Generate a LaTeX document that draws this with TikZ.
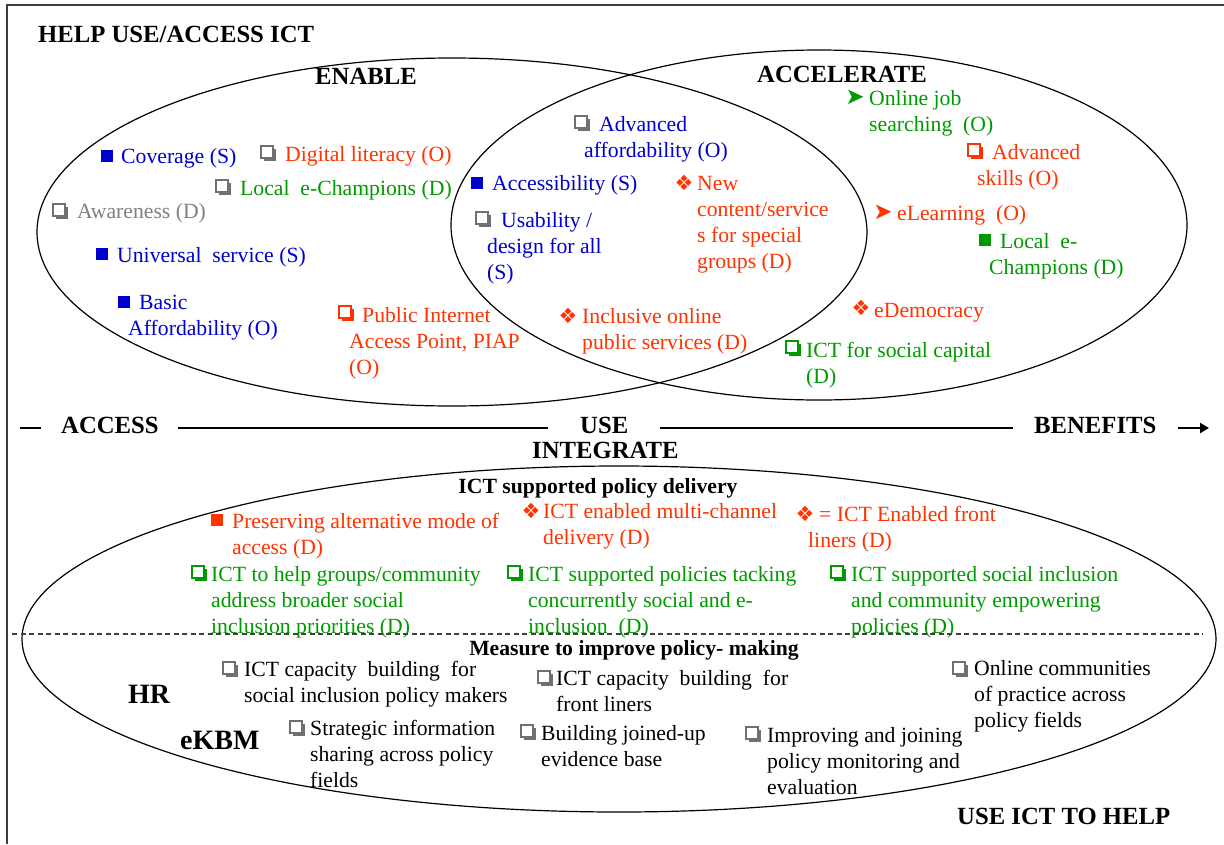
\documentclass[tikz,border=0pt]{standalone}
\usepackage{fontspec}
\setmainfont{Liberation Serif}
\newfontfamily\symf{DejaVu Sans}
\usetikzlibrary{arrows.meta,shadows,shapes.geometric}

\definecolor{cblue}{RGB}{0,0,204}
\definecolor{cred}{RGB}{255,51,0}
\definecolor{cgreen}{RGB}{0,153,0}
\definecolor{cgray}{RGB}{128,128,128}
\definecolor{cbox}{RGB}{112,112,112}
\definecolor{cframe}{RGB}{60,60,60}

\tikzset{
  txt/.style={anchor=base west, inner sep=0pt, align=left, font=\fontsize{21.7}{26}\selectfont},
  % multi-line texts are placed by their first baseline
  l2/.style={yshift=-26pt},
  l3/.style={yshift=-52pt},
  l4/.style={yshift=-78pt},
  head/.style={anchor=base west, inner sep=0pt, font=\fontsize{24.7}{29}\selectfont\bfseries},
  sub/.style={anchor=base, inner sep=0pt, font=\fontsize{21.7}{26}\selectfont\bfseries},
  big/.style={anchor=base west, inner sep=0pt, font=\fontsize{28}{32}\selectfont\bfseries},
  sqfull/.style={rectangle, inner sep=0pt, minimum size=12pt, fill=#1},
  sqopen/.style={rectangle, inner sep=0pt, minimum size=12pt, draw=#1, line width=1.1pt, fill=white,
    general shadow={shadow xshift=2.6pt, shadow yshift=-2.6pt, fill=#1}},
  dia/.style={inner sep=0pt, text=#1, font=\fontsize{21}{21}\symf},
  arrhead/.style={inner sep=0pt, text=#1, font=\fontsize{23}{23}\symf},
  ring/.style={ellipse, draw, line width=1.2pt, inner sep=0pt, outer sep=0pt},
  axis/.style={line width=2.6pt},
  frame/.style={line width=1.8pt, draw=cframe},
  divider/.style={line width=1.1pt, draw=black!75, dash pattern=on 5pt off 3.5pt},
}

\begin{document}
\begin{tikzpicture}[x=1pt,y=-1pt]
\useasboundingbox (0,0) rectangle (1224,844);

% page frame
\draw[frame] (7,844) -- (7,5) -- (1224,5);

% the three areas
\node[ring, minimum width=830pt, minimum height=348pt] (enable) at (452,232) {};
\node[ring, minimum width=736pt, minimum height=350pt] (accel) at (819,225) {};
\node[ring, minimum width=1194pt, minimum height=346pt] (integrate) at (619,639) {};

% headings
\node[head] (help) at (38,42) {HELP USE/ACCESS ICT};
\node[head] (enablet) at (315,84) {ENABLE};
\node[head] (accelt) at (757,82) {ACCELERATE};

% ENABLE items
\node[sqfull=cblue] (b1) at (107,156) {};
\node[txt,text=cblue] (t1) at (121,163) {Coverage (S)};
\node[sqopen=cbox] (b2) at (267,152) {};
\node[txt,text=cred] (t2) at (285,161) {Digital literacy (O)};
\node[sqopen=cbox] (b3) at (222,186) {};
\node[txt,text=cgreen] (t3) at (240,195) {Local\ \ e-Champions (D)};
\node[sqopen=cbox] (b4) at (59,210) {};
\node[txt,text=cgray] (t4) at (77,218) {Awareness (D)};
\node[sqfull=cblue] (b5) at (102,254) {};
\node[txt,text=cblue] (t5) at (117,262) {Universal\ \ service (S)};
\node[sqfull=cblue] (b6) at (124,302) {};
\node[txt,l2,text=cblue] (t6) at (128,309) {\hspace*{11pt}Basic\\Affordability (O)};
\node[sqopen=cred] (b7) at (345,312) {};
\node[txt,l3,text=cred] (t7) at (349,322) {\hspace*{13pt}Public Internet\\Access Point, PIAP\\(O)};

% shared items
\node[sqopen=cbox] (b8) at (581,122) {};
\node[txt,l2,text=cblue] (t8) at (584,131) {\hspace*{15pt}Advanced\\affordability (O)};
\node[sqfull=cblue] (b9) at (477,183) {};
\node[txt,text=cblue] (t9) at (492,190) {Accessibility (S)};
\node[sqopen=cbox] (b10) at (482,218) {};
\node[txt,l3,text=cblue] (t10) at (487,227) {\hspace*{14pt}Usability /\\design for all\\(S)};
\node[dia=cred] (b11) at (684,183) {❖};
\node[txt,l4,text=cred] (t11) at (697,190) {New\\content/service\\s for special\\groups (D)};
\node[dia=cred] (b12) at (568,316) {❖};
\node[txt,l2,text=cred] (t12) at (582,323) {Inclusive online\\public services (D)};

% ACCELERATE items
\node[arrhead=cgreen] (b13) at (855,97) {➤};
\node[txt,l2,text=cgreen] (t13) at (869,105) {Online job\\searching\ \ (O)};
\node[sqopen=cred] (b14) at (974,150) {};
\node[txt,l2,text=cred] (t14) at (977,159) {\hspace*{15pt}Advanced\\skills (O)};
\node[arrhead=cred] (b15) at (883,212) {➤};
\node[txt,text=cred] (t15) at (897,220) {eLearning\ \ (O)};
\node[sqfull=cgreen] (b16) at (985,240) {};
\node[txt,l2,text=cgreen] (t16) at (989,248) {\hspace*{11pt}Local\ \ e-\\Champions (D)};
\node[dia=cred] (b17) at (861,308) {❖};
\node[txt,text=cred] (t17) at (874,317) {eDemocracy};
\node[sqopen=cgreen] (b18) at (792,347) {};
\node[txt,l2,text=cgreen] (t18) at (806,357) {ICT for social capital\\(D)};

% access - use - benefits axis
\node[head] (access) at (61,433) {ACCESS};
\node[head] (use) at (580,433) {USE};
\node[head] (benefits) at (1034,433) {BENEFITS};
\node[head] (integ) at (532,458) {INTEGRATE};
\coordinate (a0) at (20,428);
\coordinate (a1) at (41,428);
\coordinate (a2) at (178,428);
\coordinate (a3) at (548,428);
\coordinate (a4) at (660,428);
\coordinate (a5) at (1013,428);
\coordinate (a6) at (1178,428);
\coordinate (a7) at (1209,428);
\draw[axis] (a0) -- (a1);
\draw[axis] (a2) -- (a3);
\draw[axis] (a4) -- (a5);
\draw[axis, -{Triangle[length=9pt,width=10pt]}] (a6) -- (a7);

% policy delivery
\node[sub] (policyd) at (598,493) {ICT supported policy delivery};
\node[sqfull=cred] (b19) at (217,520) {};
\node[txt,l2,text=cred] (t19) at (232,528) {Preserving alternative mode of\\access (D)};
\node[dia=cred] (b20) at (531,511) {❖};
\node[txt,l2,text=cred] (t20) at (543,518) {ICT enabled multi-channel\\delivery (D)};
\node[dia=cred] (b21) at (805,514) {❖};
\node[txt,l2,text=cred] (t21) at (808,521) {\hspace*{11pt}= ICT Enabled front\\liners (D)};
\node[sqopen=cgreen] (b22) at (198,572) {};
\node[txt,l3,text=cgreen] (t22) at (211,581) {ICT to help groups/community\\address broader social\\inclusion priorities (D)};
\node[sqopen=cgreen] (b23) at (514,572) {};
\node[txt,l3,text=cgreen] (t23) at (528,581) {ICT supported policies tacking\\concurrently social and e-\\inclusion\ \ (D)};
\node[sqopen=cgreen] (b24) at (837,572) {};
\node[txt,l3,text=cgreen] (t24) at (851,581) {ICT supported social inclusion\\and community empowering\\policies (D)};

% divider
\coordinate (d0) at (12,634);
\coordinate (d1) at (1203,634);
\draw[divider] (d0) -- (d1);

% policy making
\node[sub] (measure) at (634,655) {Measure to improve policy- making};
\node[big] (hr) at (128,703) {HR};
\node[big] (ekbm) at (180,749) {eKBM};
\node[sqopen=cbox] (b25) at (229,668) {};
\node[txt,l2] (t25) at (244,676) {ICT capacity\ \ building\ \ for\\social inclusion policy makers};
\node[sqopen=cbox] (b26) at (544,677) {};
\node[txt,l2] (t26) at (556,685) {ICT capacity\ \ building\ \ for\\front liners};
\node[sqopen=cbox] (b27) at (959,668) {};
\node[txt,l3] (t27) at (974,675) {Online communities\\of practice across\\policy fields};
\node[sqopen=cbox] (b28) at (296,727) {};
\node[txt,l3] (t28) at (310,735) {Strategic information\\sharing across policy\\fields};
\node[sqopen=cbox] (b29) at (527,731) {};
\node[txt,l2] (t29) at (541,740) {Building joined-up\\evidence base};
\node[sqopen=cbox] (b30) at (752,733) {};
\node[txt,l3] (t30) at (767,742) {Improving and joining\\policy monitoring and\\evaluation};
\node[head] (usehelp) at (957,824) {USE ICT TO HELP};

\end{tikzpicture}
\end{document}
